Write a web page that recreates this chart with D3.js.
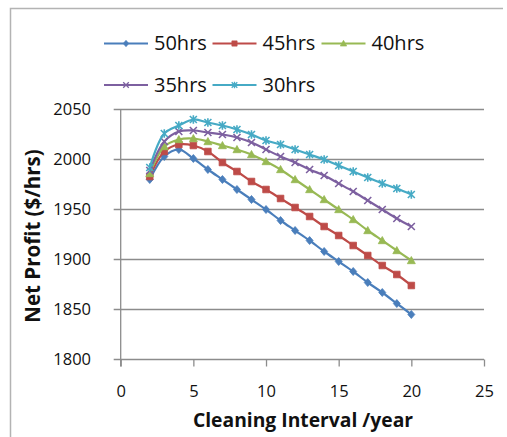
<!DOCTYPE html>
<html>
<head>
<meta charset="utf-8">
<script src="https://cdn.jsdelivr.net/npm/d3@7"></script>
<style>
  html, body { margin: 0; padding: 0; background: #fff; }
  svg { display: block; font-family: "Open Sans", "DejaVu Sans", sans-serif; }
</style>
</head>
<body>
<svg id="chart" width="507" height="437"></svg>
<script>
// Cleaning interval (years) on the x axis
const intervals = [2, 3, 4, 5, 6, 7, 8, 9, 10, 11, 12, 13, 14, 15, 16, 17, 18, 19, 20];

// Net profit ($/hrs) for each operating-hours scenario
const profit50 = [1980, 2003, 2010, 2001, 1990, 1980, 1970, 1960, 1950, 1939, 1929, 1919, 1908, 1898, 1888, 1877, 1867, 1856, 1845];
const profit45 = [1983, 2008, 2015, 2014, 2008, 1997, 1988, 1978, 1970, 1961, 1952, 1943, 1933, 1924, 1914, 1904, 1894, 1885, 1874];
const profit40 = [1986, 2013, 2020, 2021, 2018, 2014, 2010, 2005, 1998, 1990, 1980, 1970, 1960, 1950, 1940, 1929, 1919, 1909, 1899];
const profit35 = [1989, 2018, 2028, 2029, 2027, 2025, 2022, 2017, 2010, 2003, 1997, 1990, 1984, 1976, 1968, 1959, 1950, 1941, 1933];
const profit30 = [1992, 2026, 2034, 2040, 2037, 2034, 2030, 2025, 2019, 2015, 2010, 2005, 2000, 1994, 1988, 1982, 1976, 1971, 1965];

const seriesNames = ["50hrs", "45hrs", "40hrs", "35hrs", "30hrs"];
const seriesValues = [profit50, profit45, profit40, profit35, profit30];

const xTicks = [0, 5, 10, 15, 20, 25];
const yTicks = [1800, 1850, 1900, 1950, 2000, 2050];

const colors = ["#4A7EBB", "#BE4B48", "#98B954", "#7D60A0", "#46AAC5"];
const markers = ["diamond", "square", "triangle", "cross", "star"];

const svg = d3.select("#chart");

// outer frame (top and left edges)
svg.append("path")
  .attr("d", "M10.5,437 L10.5,8.5 L503,8.5")
  .attr("fill", "none").attr("stroke", "#b3b3b3").attr("stroke-width", 1.5);

const x = d3.scaleLinear().domain([0, 25]).range([120.7, 484]);
const y = d3.scaleLinear().domain([1800, 2050]).range([359.5, 109.5]);

// horizontal gridlines, extending left of the axis as tick marks
const gridG = svg.append("g");
gridG.selectAll("line").data(yTicks).join("line")
  .attr("x1", x(0) - 7).attr("x2", x(25))
  .attr("y1", d => y(d)).attr("y2", d => y(d))
  .attr("stroke", "#8c8c8c").attr("stroke-width", 1.3);

// y axis line
svg.append("line")
  .attr("x1", x(0)).attr("x2", x(0))
  .attr("y1", y(2050)).attr("y2", y(1800) + 7)
  .attr("stroke", "#8c8c8c").attr("stroke-width", 1.3);

// x axis ticks
const xAxis = d3.axisBottom(x).tickValues(xTicks).tickSize(7).tickPadding(18.5);
const xg = svg.append("g").attr("transform", `translate(0,${y(1800)})`).call(xAxis);
xg.select(".domain").remove();
xg.selectAll(".tick line").attr("stroke", "#8c8c8c").attr("stroke-width", 1.3);
xg.selectAll(".tick text").attr("font-size", 16.5).attr("fill", "#111")
  .attr("font-family", "'Open Sans', sans-serif");

// y axis labels
const yAxis = d3.axisLeft(y).tickValues(yTicks).tickFormat(d3.format("d"))
  .tickSize(0).tickPadding(x(0) - 91);
const yg = svg.append("g").attr("transform", `translate(${x(0)},0)`).call(yAxis);
yg.select(".domain").remove();
yg.selectAll(".tick text").attr("font-size", 16.5).attr("fill", "#111")
  .attr("font-family", "'Open Sans', sans-serif");

// axis titles
svg.append("text")
  .attr("x", 303).attr("y", 427)
  .attr("text-anchor", "middle")
  .attr("font-size", 19.3).attr("font-weight", "bold").attr("fill", "#111")
  .text("Cleaning Interval /year");

svg.append("text")
  .attr("transform", "translate(40,236) rotate(-90)")
  .attr("text-anchor", "middle")
  .attr("font-size", 20.5).attr("font-weight", "bold").attr("fill", "#111")
  .text("Net Profit ($/hrs)");

// marker shapes
function markerPath(kind) {
  switch (kind) {
    case "diamond": return "M0,-4 L3.5,0 L0,4 L-3.5,0 Z";
    case "square": return "M-3.3,-3.3 L3.3,-3.3 L3.3,3.3 L-3.3,3.3 Z";
    case "triangle": return "M0,-4 L4,3.2 L-4,3.2 Z";
    case "cross": return "M-3.5,-3.5 L3.5,3.5 M-3.5,3.5 L3.5,-3.5";
    case "star": return "M-3.5,-3.5 L3.5,3.5 M-3.5,3.5 L3.5,-3.5 M0,-4.2 L0,4.2";
  }
}
function drawMarker(sel, kind, color) {
  const isStroke = kind === "cross" || kind === "star";
  sel.append("path")
    .attr("d", markerPath(kind))
    .attr("fill", isStroke ? "none" : color)
    .attr("stroke", color)
    .attr("stroke-width", isStroke ? 1.6 : 0.8);
}

const line = d3.line()
  .x((d, i) => x(intervals[i]))
  .y(d => y(d))
  .curve(d3.curveCatmullRom.alpha(0.5));

seriesValues.forEach((vals, s) => {
  const g = svg.append("g");
  g.append("path")
    .datum(vals)
    .attr("d", line)
    .attr("fill", "none")
    .attr("stroke", colors[s])
    .attr("stroke-width", 2.2)
    .attr("stroke-linejoin", "round");
  g.selectAll("g.m").data(vals).join("g")
    .attr("class", "m")
    .attr("transform", (d, i) => `translate(${x(intervals[i])},${y(d)})`)
    .each(function () { drawMarker(d3.select(this), markers[s], colors[s]); });
});

// legend
const legendPos = [
  { lx: 104, ly: 43.5 }, { lx: 212.5, ly: 43.5 }, { lx: 321.5, ly: 43.5 },
  { lx: 104, ly: 85 }, { lx: 212.5, ly: 85 }
];
seriesNames.forEach((name, s) => {
  const p = legendPos[s];
  const g = svg.append("g").attr("transform", `translate(${p.lx},${p.ly})`);
  g.append("line").attr("x1", 0).attr("x2", 44).attr("y1", 0).attr("y2", 0)
    .attr("stroke", colors[s]).attr("stroke-width", 2.2);
  const m = g.append("g").attr("transform", "translate(22,0) scale(0.8)");
  drawMarker(m, markers[s], colors[s]);
  g.append("text").attr("x", 50).attr("y", 6.8)
    .attr("font-size", 20).attr("fill", "#111")
    .text(name);
});
</script>
</body>
</html>
